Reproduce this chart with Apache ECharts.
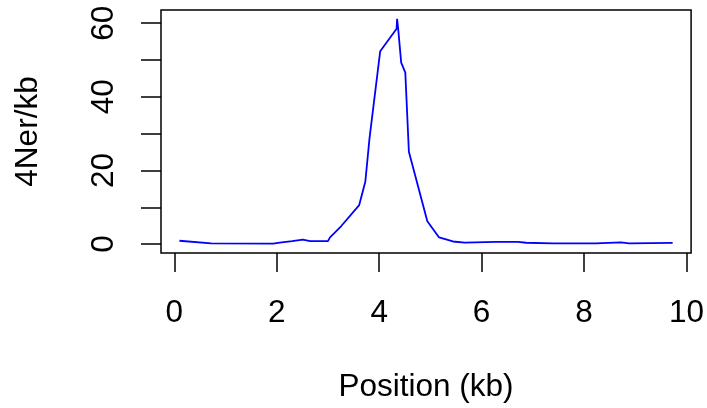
<!DOCTYPE html>
<html>
<head>
<meta charset="utf-8">
<script src="https://cdn.jsdelivr.net/npm/echarts@6/dist/echarts.min.js"></script>
<style>
  html, body { margin: 0; padding: 0; background: #fff; }
  #chart { width: 707px; height: 408px; }
</style>
</head>
<body>
<div id="chart"></div>
<script>
// 位置 (kb) 和 4Ner/kb 数值
var positions = [0.10, 0.72, 1.93, 2.06, 2.30, 2.51, 2.65, 3.00, 3.04, 3.26, 3.61, 3.73,
                 3.81, 4.02, 4.34, 4.35, 4.37, 4.43, 4.51, 4.58, 4.94, 5.17, 5.44, 5.67,
                 6.28, 6.71, 6.87, 7.39, 8.23, 8.72, 8.88, 9.73];
var rho = [0.9, 0.2, 0.1, 0.4, 0.8, 1.2, 0.8, 0.8, 1.8, 4.9, 10.6, 17.0,
           28.6, 52.4, 58.5, 61.2, 58.6, 49.3, 46.6, 25.1, 6.2, 1.8, 0.7, 0.4,
           0.6, 0.6, 0.35, 0.2, 0.2, 0.45, 0.2, 0.3];
var xTicks = [0, 2, 4, 6, 8, 10];
var yTicks = [0, 10, 20, 30, 40, 50, 60];
var yLabels = [0, 20, 40, 60];

var points = positions.map(function (p, i) { return [p, rho[i]]; });

var font = 'Liberation Sans, Arial, sans-serif';
var myChart = echarts.init(document.getElementById('chart'));
var option = {
    animation: false,
    grid: {
        left: 161, right: 15, top: 10, bottom: 153,
        show: true, borderColor: '#000', borderWidth: 1.5
    },
    xAxis: {
        type: 'value',
        min: -0.26, max: 10.09,
        name: 'Position (kb)',
        nameLocation: 'middle',
        nameGap: 118,
        nameTextStyle: { fontFamily: font, fontSize: 31.5, color: '#000' },
        axisLine: { show: false, onZero: false },
        splitLine: { show: false },
        axisTick: { show: true, length: 19, customValues: xTicks,
                    lineStyle: { color: '#000', width: 1.5 } },
        axisLabel: { customValues: xTicks, margin: 44,
                     fontFamily: font, fontSize: 31.5, color: '#000' }
    },
    yAxis: {
        type: 'value',
        min: -2.43, max: 63.6,
        name: '4Ner/kb',
        nameLocation: 'middle',
        nameRotate: 90,
        nameGap: 117,
        nameTextStyle: { fontFamily: font, fontSize: 31.5, color: '#000' },
        axisLine: { show: false, onZero: false },
        splitLine: { show: false },
        axisTick: { show: true, length: 20, customValues: yTicks,
                    lineStyle: { color: '#000', width: 1.5 } },
        axisLabel: { customValues: yLabels, rotate: 90, margin: 41,
                     fontFamily: font, fontSize: 31.5, color: '#000' }
    },
    series: [{
        type: 'line',
        data: points,
        symbol: 'none',
        lineStyle: { color: '#0000ff', width: 1.8 }
    }]
};
myChart.setOption(option);
</script>
</body>
</html>
